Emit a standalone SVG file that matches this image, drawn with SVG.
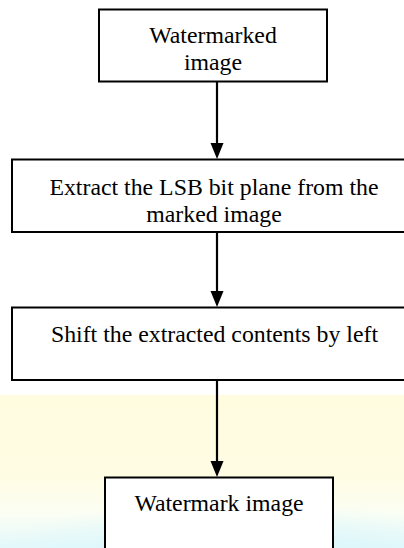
<svg xmlns="http://www.w3.org/2000/svg" width="404" height="548" viewBox="0 0 404 548">
<defs>
<style>
.box{fill:#fff;stroke:#000;stroke-width:2}
.t{font-family:"Liberation Serif","Times New Roman",serif;font-size:23.8px;fill:#000;text-anchor:middle}
.c{stroke:#000;stroke-width:2.2;fill:none}
</style>
<linearGradient id="bg" x1="0" y1="0" x2="0" y2="1">
<stop offset="0" stop-color="#fffce0"/>
<stop offset="0.55" stop-color="#fffce4"/>
<stop offset="0.78" stop-color="#fbfef4"/>
<stop offset="1" stop-color="#e2f8fb"/>
</linearGradient>
<radialGradient id="cy" cx="0.6" cy="1" r="0.6">
<stop offset="0" stop-color="#d8f6fb" stop-opacity="0.9"/>
<stop offset="1" stop-color="#d8f6fb" stop-opacity="0"/>
</radialGradient>
<marker id="ah" viewBox="0 0 14 16" refX="7" refY="16" markerWidth="14" markerHeight="16" markerUnits="userSpaceOnUse" orient="auto-start-reverse">
<path d="M0,0 L14,0 L7,16 Z" fill="#000"/>
</marker>
</defs>
<rect width="404" height="548" fill="#fff"/>
<rect x="0" y="395" width="404" height="153" fill="url(#bg)"/>
<rect x="0" y="470" width="404" height="78" fill="url(#cy)"/>
<g id="connectors">
<line class="c" x1="217" y1="82" x2="217" y2="143"/>
<path d="M210.5,143 L223.5,143 L217,159 Z" fill="#000"/>
<line class="c" x1="217" y1="232" x2="217" y2="291"/>
<path d="M210.5,291 L223.5,291 L217,307 Z" fill="#000"/>
<line class="c" x1="217" y1="380" x2="217" y2="462"/>
<path d="M210.5,461 L223.5,461 L217,477 Z" fill="#000"/>
</g>
<g id="n1">
<rect class="box" x="99" y="9.5" width="228" height="72"/>
<text class="t" x="213" y="42.5">Watermarked</text>
<text class="t" x="213" y="70">image</text>
</g>
<g id="n2">
<rect class="box" x="12" y="159.5" width="400" height="72.5"/>
<text class="t" x="214" y="195">Extract the LSB bit plane from the</text>
<text class="t" x="214" y="221.5">marked image</text>
</g>
<g id="n3">
<rect class="box" x="12" y="307.5" width="400" height="72.5"/>
<text class="t" x="214.5" y="341.5">Shift the extracted contents by left</text>
</g>
<g id="n4">
<rect class="box" x="105" y="477.5" width="228" height="80"/>
<text class="t" x="219" y="510.5">Watermark image</text>
</g>
</svg>
